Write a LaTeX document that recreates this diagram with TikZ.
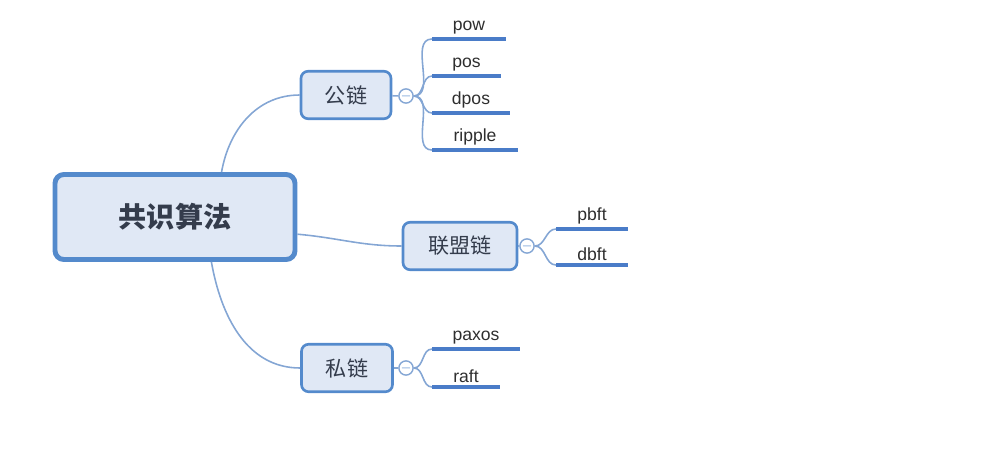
\documentclass[tikz,border=0pt]{standalone}
\usepackage{fontspec}
\setmainfont{Liberation Sans}
\newfontfamily\cjk{Noto Sans CJK SC}
\definecolor{boxline}{RGB}{84,138,204}
\definecolor{boxfill}{RGB}{224,232,245}
\definecolor{branch}{RGB}{132,166,212}
\definecolor{leafline}{RGB}{74,124,200}
\definecolor{ink}{RGB}{52,60,76}
\begin{document}
\begin{tikzpicture}[x=0.02cm,y=0.02cm]

\tikzstyle{rootbox} = [draw=boxline,fill=boxfill,line width=2.8pt,rounded corners=5pt,minimum width=4.8cm,minimum height=1.7cm,text=ink,font=\cjk\bfseries\fontsize{16}{18}\selectfont];
\tikzstyle{subbox} = [draw=boxline,fill=boxfill,line width=1.5pt,rounded corners=4pt,minimum height=0.95cm,text=ink,font=\cjk\fontsize{12}{14}\selectfont];
\tikzstyle{fold} = [circle,draw=branch,fill=white,line width=0.8pt,inner sep=0,minimum size=0.26cm,text=boxline,font=\scriptsize];
\tikzstyle{leaf} = [anchor=south west,inner xsep=0,inner ysep=2.5pt,outer sep=0,text=black!82,font=\fontsize{10}{12}\selectfont];
\tikzstyle{link} = [draw=branch,line width=0.9pt];
\tikzstyle{under} = [draw=leafline,line width=2pt];

\useasboundingbox (0,0) rectangle (984,-454);

\node[rootbox] (v1) at (175,-217) {共识算法};
\node[subbox,minimum width=1.8cm] (v2) at (346,-95) {公链};
\node[subbox,minimum width=2.28cm] (v3) at (460,-246) {联盟链};
\node[subbox,minimum width=1.82cm] (v4) at (347,-368) {私链};

\node[fold] (c2) at (406,-96) {$-$};
\node[fold] (c3) at (527,-246) {$-$};
\node[fold] (c4) at (406,-368) {$-$};

\draw[link] (v1.44) to[out=80,in=180] (v2.west);
\draw[link] (v1.-8) to[out=-5,in=180] (v3.west);
\draw[link] (v1.-51) to[out=-80,in=180] (v4.west);
\draw[link] (v2) -- (c2);
\draw[link] (v3) -- (c3);
\draw[link] (v4) -- (c4);

\node[leaf,minimum width=1.48cm] (l1) at (432,-39) {pow};
\node[leaf,minimum width=1.38cm] (l2) at (432,-76) {pos};
\node[leaf,minimum width=1.56cm] (l3) at (432,-113) {dpos};
\node[leaf,minimum width=1.72cm] (l4) at (432,-150) {ripple};
\node[leaf,minimum width=1.44cm] (l5) at (556,-229) {pbft};
\node[leaf,minimum width=1.44cm] (l6) at (556,-265) {dbft};
\node[leaf,minimum width=1.76cm] (l7) at (432,-349) {paxos};
\node[leaf,minimum width=1.36cm] (l8) at (432,-387) {raft};

\foreach \c/\l in {c2/l1,c2/l2,c2/l3,c2/l4,c3/l5,c3/l6,c4/l7,c4/l8}
  \draw[link] (\c.east) to[out=0,in=180] (\l.south west);
\foreach \l in {l1,l2,l3,l4,l5,l6,l7,l8}
  \draw[under] (\l.south west) -- (\l.south east);
\end{tikzpicture}
\end{document}
